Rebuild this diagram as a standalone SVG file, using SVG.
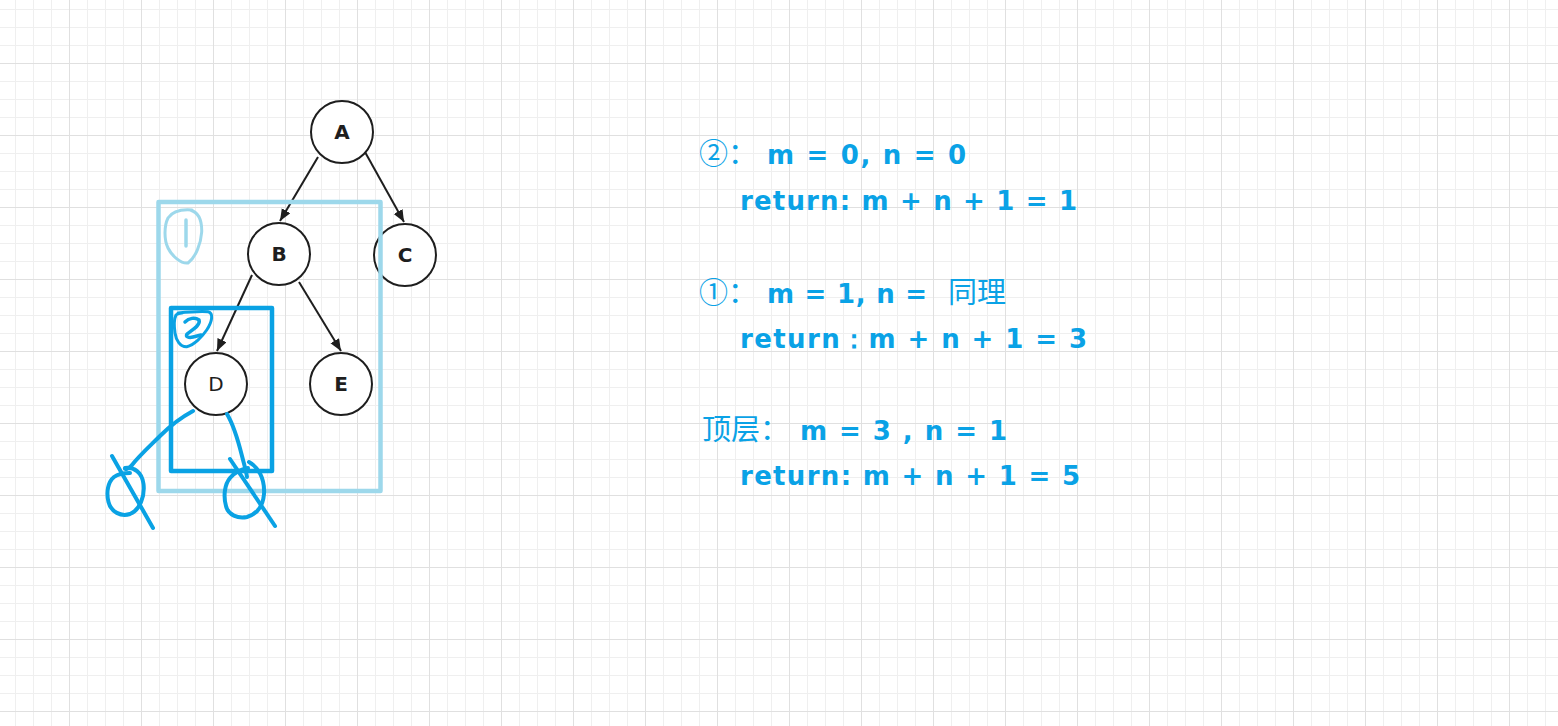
<svg xmlns="http://www.w3.org/2000/svg" width="1558" height="726" viewBox="0 0 1558 726">
<defs>
<pattern id="minor" x="-3" y="-9" width="18" height="18" patternUnits="userSpaceOnUse">
<path d="M0.5,0 V18 M0,0.5 H18" stroke="#efefef" stroke-width="1" fill="none"/>
</pattern>
<pattern id="major" x="-3" y="-9" width="72" height="72" patternUnits="userSpaceOnUse">
<path d="M0.5,0 V72 M0,0.5 H72" stroke="#e0e0e0" stroke-width="1" fill="none"/>
</pattern>
<marker id="arr" markerUnits="userSpaceOnUse" markerWidth="14" markerHeight="12" refX="12" refY="5" orient="auto">
<path d="M0,0 L12,5 L0,10 Z" fill="#1e1e1e"/>
</marker>
<style>
.node circle{fill:#fff;stroke:#1e1e1e;stroke-width:2}
.node text{font-family:"DejaVu Sans","Liberation Sans",sans-serif;font-size:20px;font-weight:bold;fill:#1e1e1e;text-anchor:middle}
.edge{stroke:#1e1e1e;stroke-width:2;fill:none;marker-end:url(#arr)}
.hand{fill:none;stroke-linecap:round;stroke-linejoin:round}
.lb{stroke:#9dd8eb}
.db{stroke:#0aa2e4}
.t{font-family:"DejaVu Sans","Liberation Sans",sans-serif;font-weight:bold;font-size:26px;fill:#0aa2e6}
.c{font-family:"Noto Sans CJK SC","Liberation Sans",sans-serif;font-size:29px;fill:#0aa2e6}
</style>
</defs>
<rect width="1558" height="726" fill="#fff"/>
<rect width="1558" height="726" fill="url(#minor)"/>
<rect width="1558" height="726" fill="url(#major)"/>

<g id="connectors">
<line class="edge" x1="318" y1="157" x2="280" y2="221"/>
<line class="edge" x1="365" y1="152" x2="404" y2="222"/>
<line class="edge" x1="252" y1="275" x2="217" y2="351"/>
<line class="edge" x1="299" y1="282" x2="341" y2="351"/>
</g>

<g id="node-A" class="node"><circle cx="342" cy="132" r="31"/><text x="342" y="139">A</text></g>
<g id="node-B" class="node"><circle cx="279" cy="254" r="31"/><text x="279" y="261">B</text></g>
<g id="node-C" class="node"><circle cx="405" cy="255" r="31"/><text x="405" y="262">C</text></g>
<g id="node-D" class="node"><circle cx="216" cy="384" r="31"/><text x="216" y="391" style="font-weight:normal">D</text></g>
<g id="node-E" class="node"><circle cx="341" cy="384" r="31"/><text x="341" y="391">E</text></g>

<g id="frame-1">
<rect class="hand lb" x="158.5" y="202" width="222" height="289" stroke-width="4.5"/>
<path class="hand lb" stroke-width="3" d="M190,210 C198,212 202,220 201.7,232 C201,243 196,257 188,263 C181,264 172,256 168,248 C164,240 164,226 168,218 C172,212 180,209 192,210"/>
<path class="hand lb" stroke-width="3.5" d="M186,220 L186,246"/>
</g>

<g id="frame-2">
<rect class="hand db" x="171" y="308" width="101" height="163" stroke-width="4.5"/>
<path class="hand db" stroke-width="3" d="M178,313 C188,312 200,311 208,311.7 C214,313 212,322 206.7,330 C202,337 194,345 186.7,346.7 C180,347 176,340 175,333 C174,326 174,319 176,315 C178,313 181,313 182,313"/>
<path class="hand db" stroke-width="3.5" d="M185,322 C189,318 195,317 199,320 C201,325 192,330 187,334 C185,337 189,338 193,337 L201,335"/>
</g>

<g id="null-left">
<path class="hand db" stroke-width="4" d="M193,411 C180,418 170,426 160,436 C150,446 140,455 132,465 C129,469 124,470 125,468 C134,467 142,472 143.5,484 C145,496 140,510 130,514 C121,517 111,512 108.5,502 C106,492 108,482 114,477 C118,474 124,473 130,473"/>
<path class="hand db" stroke-width="4" d="M112,456 L153,528"/>
</g>

<g id="null-right">
<path class="hand db" stroke-width="4" d="M227,414 C233,424 238,440 242,456 C244,464 246,470 247,477"/>
<path class="hand db" stroke-width="4" d="M249,462 C258,467 265,478 264,494 C263,506 257,514 247,517 C238,519 228,515 226,506 C223,495 225,484 230,478 C235,472 242,469 248,468"/>
<path class="hand db" stroke-width="4" d="M230,459 L275,526"/>
</g>

<g id="notes">
<text class="c" x="699" y="164">②：</text>
<text class="t" x="767" y="164" textLength="199" lengthAdjust="spacing">m = 0, n = 0</text>
<text class="t" x="740" y="210" textLength="337" lengthAdjust="spacing">return: m + n + 1 = 1</text>

<text class="c" x="699" y="303">①：</text>
<text class="t" x="767" y="303" textLength="160" lengthAdjust="spacing">m = 1, n =</text>
<text class="c" x="948" y="303">同理</text>
<text class="t" x="740" y="348" textLength="347" lengthAdjust="spacing">return：m + n + 1 = 3</text>

<text class="c" x="702" y="440">顶层：</text>
<text class="t" x="800" y="440" textLength="207" lengthAdjust="spacing">m = 3 , n = 1</text>
<text class="t" x="740" y="485" textLength="340" lengthAdjust="spacing">return: m + n + 1 = 5</text>
</g>
</svg>
